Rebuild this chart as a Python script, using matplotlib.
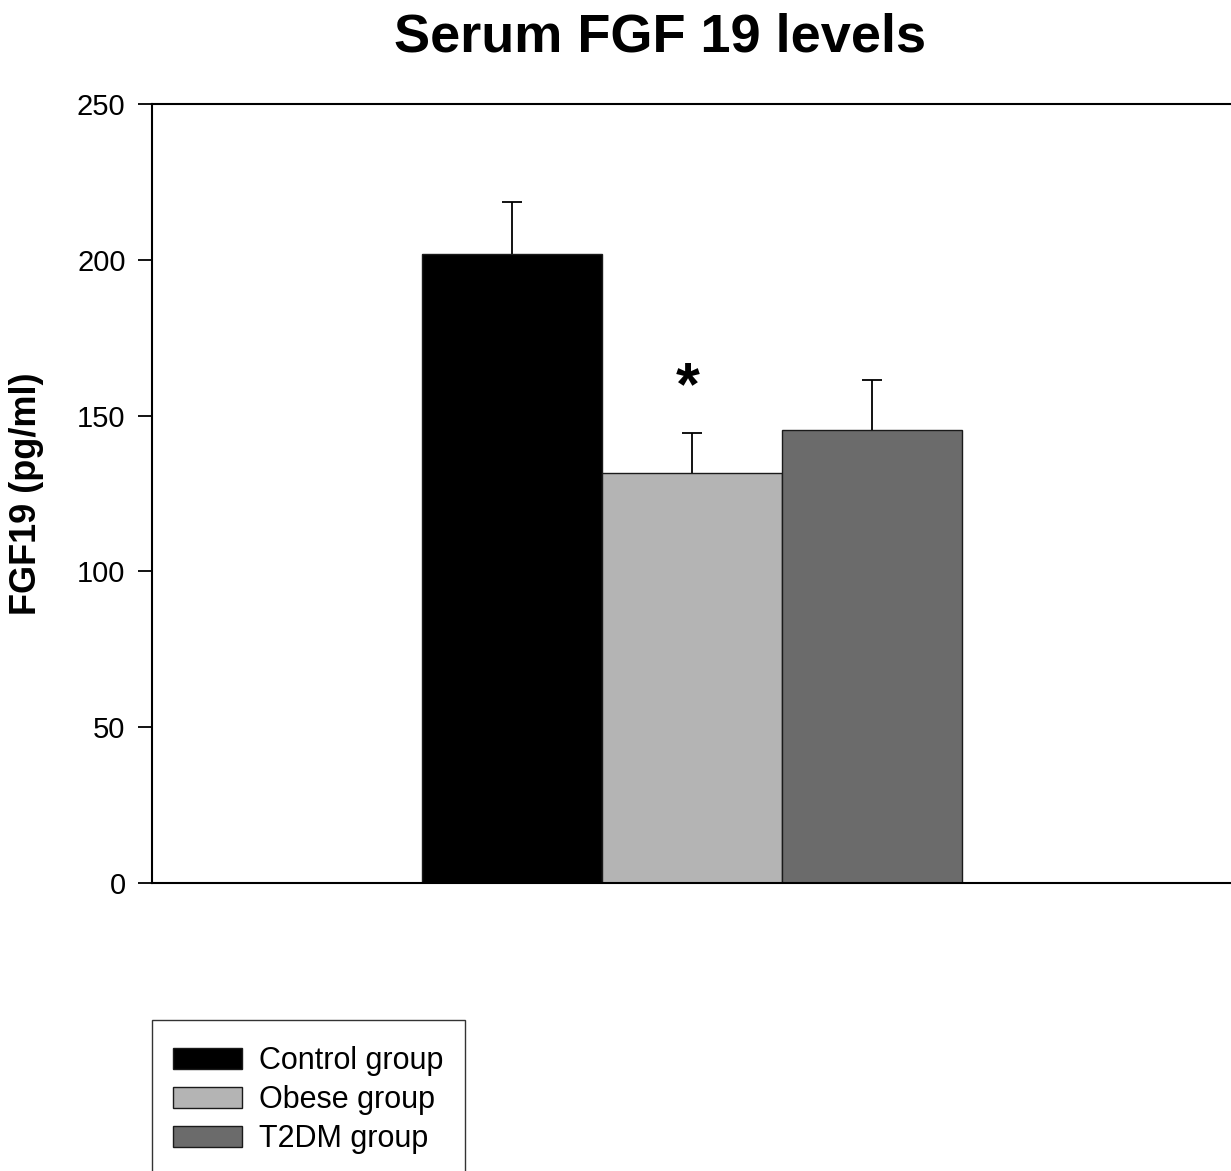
import matplotlib
matplotlib.use("Agg")
import matplotlib.pyplot as plt
from matplotlib.patches import Rectangle

groups = ["Control group", "Obese group", "T2DM group"]
means = [202, 131.5, 145.5]
errs = [16.5, 13, 16]
colors = ["#000000", "#b4b4b4", "#6b6b6b"]
yticks = [0, 50, 100, 150, 200, 250]

plt.rcParams['font.family'] = ['Liberation Sans', 'DejaVu Sans']

fig = plt.figure(figsize=(12.31, 11.71), dpi=100)
ax = fig.add_axes([152/1231, 1 - 883/1171, 1080/1231, (883-104)/1171])

pos = list(range(len(groups)))
bars = ax.bar(pos, means, width=1.0, color=colors, edgecolor="#1a1a1a", linewidth=1.0,
              label=groups, zorder=2)
eb = ax.errorbar(pos, means, yerr=[[0]*3, errs], fmt="none", ecolor="black",
                 elinewidth=1.3, capsize=7, capthick=1.3, zorder=1)
eb[1][0].set_visible(False)  # hide lower caps (only upper error shown)
# significance mark over obese group
ax.text(pos[1] - 0.025, means[1] + errs[1] + 14, "*", ha="center", va="center",
        fontsize=44, fontweight="bold")

ax.set_xlim(-2, 4)
ax.set_ylim(0, 250)
ax.set_yticks(yticks)
ax.set_xticks([])
ax.tick_params(axis="y", direction="out", length=10, width=1.3, labelsize=21, pad=9)
ax.spines["right"].set_visible(False)
for s in ["top", "bottom", "left"]:
    ax.spines[s].set_linewidth(1.5)
ax.set_ylabel("FGF19 (pg/ml)", fontsize=26, fontweight="bold")
ax.yaxis.set_label_coords(-0.1, 0.5)

fig.text(660/1231, 1 - 38/1171, "Serum FGF 19 levels", ha="center", va="center",
         fontsize=39, fontweight="bold")

leg = fig.legend(handles=bars, labels=groups, loc="upper left",
                 bbox_to_anchor=(173/1231, 1 - 1046/1171), frameon=False,
                 fontsize=22, handlelength=2.25, handleheight=0.7,
                 labelspacing=0.3, handletextpad=0.58, borderpad=0, borderaxespad=0)
fig.add_artist(Rectangle((152/1231, -0.05), (465-152)/1231, (1171-1020)/1171 + 0.05,
                         transform=fig.transFigure, fill=False, edgecolor="#333333",
                         linewidth=1.0))

fig.savefig("out.png", dpi=100)
